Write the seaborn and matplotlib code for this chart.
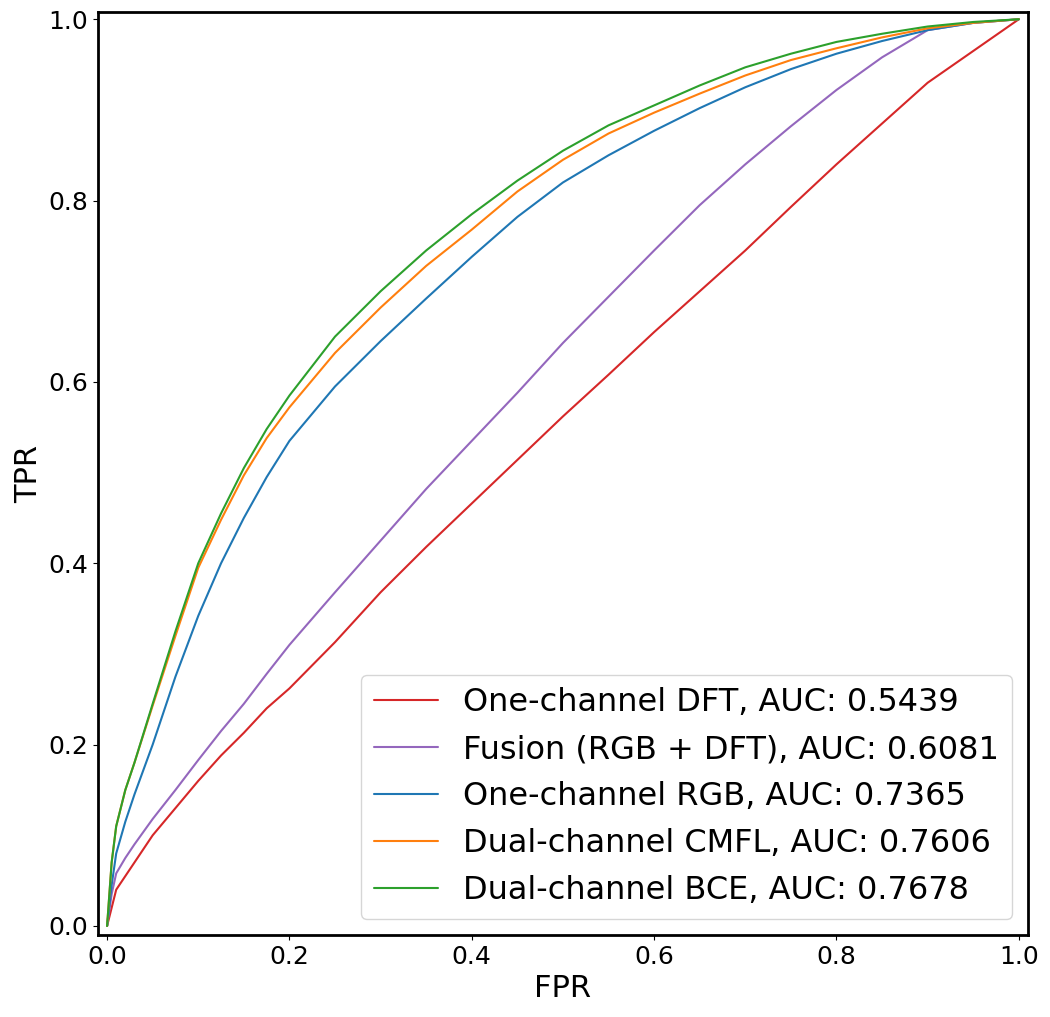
import pandas as pd
import seaborn as sns
import matplotlib.pyplot as plt

fpr = [0, 0.005, 0.01, 0.02, 0.03, 0.05, 0.075, 0.1, 0.125, 0.15, 0.175, 0.2,
       0.25, 0.3, 0.35, 0.4, 0.45, 0.5, 0.55, 0.6, 0.65, 0.7, 0.75, 0.8, 0.85,
       0.9, 0.95, 1.0]

tpr_dft = [0, 0.02, 0.04, 0.055, 0.07, 0.1, 0.13, 0.16, 0.188, 0.213, 0.24, 0.262,
           0.313, 0.368, 0.418, 0.466, 0.514, 0.562, 0.608, 0.655, 0.7, 0.745, 0.793,
           0.84, 0.885, 0.93, 0.965, 1.0]
tpr_fusion = [0, 0.035, 0.058, 0.075, 0.09, 0.118, 0.15, 0.183, 0.215, 0.245, 0.278, 0.31,
              0.368, 0.425, 0.482, 0.535, 0.588, 0.643, 0.694, 0.745, 0.795, 0.84, 0.882,
              0.922, 0.958, 0.988, 0.996, 1.0]
tpr_rgb = [0, 0.045, 0.08, 0.115, 0.145, 0.2, 0.275, 0.342, 0.4, 0.45, 0.495, 0.535,
           0.595, 0.645, 0.692, 0.738, 0.782, 0.82, 0.85, 0.877, 0.902, 0.925, 0.945,
           0.962, 0.976, 0.988, 0.996, 1.0]
tpr_cmfl = [0, 0.07, 0.11, 0.15, 0.18, 0.243, 0.32, 0.395, 0.448, 0.497, 0.538, 0.572,
            0.632, 0.682, 0.728, 0.768, 0.81, 0.845, 0.874, 0.897, 0.918, 0.938, 0.955,
            0.968, 0.98, 0.99, 0.996, 1.0]
tpr_bce = [0, 0.07, 0.11, 0.15, 0.18, 0.245, 0.325, 0.40, 0.455, 0.505, 0.548, 0.585,
           0.65, 0.70, 0.745, 0.785, 0.822, 0.855, 0.883, 0.905, 0.927, 0.947, 0.962,
           0.975, 0.984, 0.992, 0.997, 1.0]

names = ['One-channel DFT', 'Fusion (RGB + DFT)', 'One-channel RGB',
         'Dual-channel CMFL', 'Dual-channel BCE']
aucs = [0.5439, 0.6081, 0.7365, 0.7606, 0.7678]
curves = [tpr_dft, tpr_fusion, tpr_rgb, tpr_cmfl, tpr_bce]
colors = ['#d62728', '#9467bd', '#1f77b4', '#ff7f0e', '#2ca02c']

sns.set_style('ticks')
plt.rcParams['font.family'] = ['DejaVu Sans']
for k in ['text.color', 'axes.labelcolor', 'xtick.color', 'ytick.color', 'axes.edgecolor']:
    plt.rcParams[k] = 'black'

fig = plt.figure(figsize=(10.5, 10.17), dpi=100)
ax = fig.add_axes([0.0933, 0.0806, 0.8857, 0.9076])

for name, auc, tpr, c in zip(names, aucs, curves, colors):
    df = pd.DataFrame({'FPR': fpr, 'TPR': tpr})
    sns.lineplot(data=df, x='FPR', y='TPR', ax=ax, color=c, linewidth=1.5,
                 sort=False, estimator=None, label=f'{name}, AUC: {auc:.4f}')

ax.set_xlim(-0.01, 1.01)
ax.set_ylim(-0.01, 1.008)
ax.set_xticks([0, 0.2, 0.4, 0.6, 0.8, 1.0])
ax.set_yticks([0, 0.2, 0.4, 0.6, 0.8, 1.0])
ax.tick_params(labelsize=18, width=0.8, length=3.5)
ax.set_xlabel('FPR', fontsize=22)
ax.set_ylabel('TPR', fontsize=22)
for s in ax.spines.values():
    s.set_linewidth(2)
    s.set_visible(True)
ax.legend(loc='lower right', fontsize=23)

fig.savefig('out.png', dpi=100)
